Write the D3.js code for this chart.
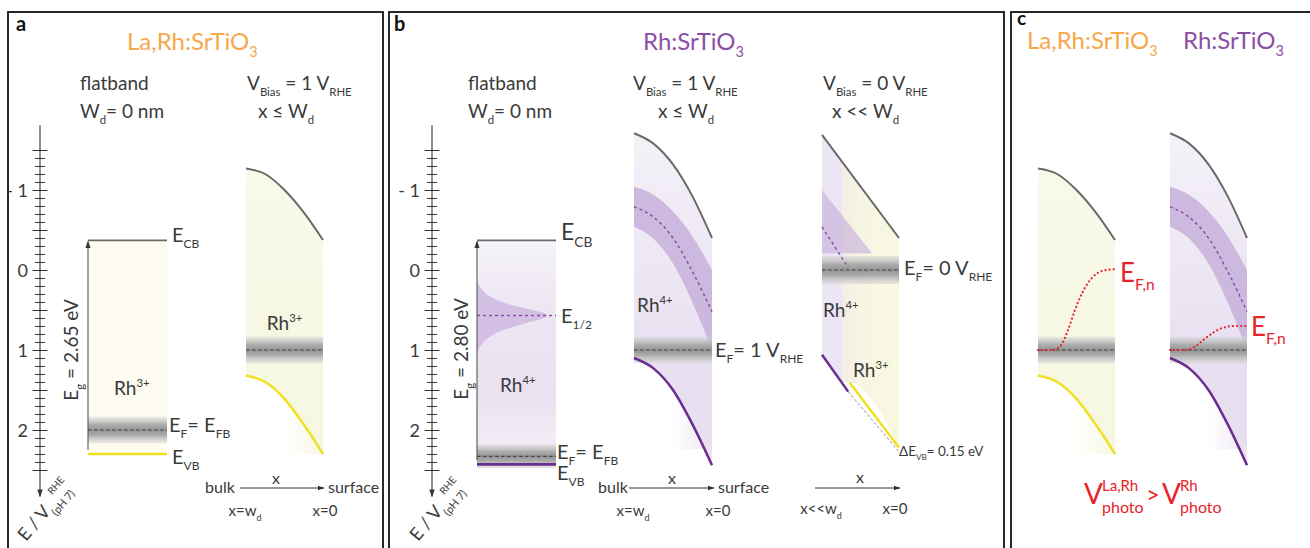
<!DOCTYPE html>
<html lang="en">
<head>
  <meta charset="UTF-8">
  <title>Band diagrams La,Rh:SrTiO3 vs Rh:SrTiO3</title>
  <script src="https://d3js.org/d3.v7.min.js"></script>
  <style>
    body { margin: 0; background: #fff; }
    svg { font-family: Lato, "Open Sans", sans-serif; }
  </style>
</head>
<body>
  <svg width="1310" height="548"></svg>
  <script>
    // ---- data (energies in V vs RHE, pH 7; x = 0 bulk .. 1 surface) ----
    const labelTicks = [-1, 0, 1, 2];
    const majorTicks = [-1.5, -1, -0.5, 0, 0.5, 1, 1.5, 2, 2.5];

    // flatband levels: [E_CB, E_F, E_VB]
    const flatLaRh = [-0.37, 2.0, 2.3];
    const flatRh = [-0.37, 2.33, 2.43];
    const e12 = 0.57;

    // Rh4+ density of states in the flatband box
    const dosE = [0.15, 0.25, 0.33, 0.40, 0.47, 0.52, 0.57, 0.62, 0.67, 0.74, 0.82, 0.92, 1.02];
    const dosW = [0.0, 0.06, 0.15, 0.30, 0.55, 0.80, 0.93, 0.80, 0.60, 0.35, 0.17, 0.06, 0.0];

    // band bending at V_bias = 1 V_RHE
    const xsBend = [0, 0.25, 0.5, 0.75, 1];
    const cbLaRh = [-1.27, -1.2, -1.0, -0.72, -0.375];
    const vbLaRh = [1.32, 1.40, 1.61, 1.93, 2.3];
    const cbRh = [-1.71, -1.58, -1.32, -0.92, -0.40];
    const rh4Top = [-1.04, -0.94, -0.73, -0.42, 0.0];
    const rh4Bot = [-0.54, -0.39, -0.08, 0.41, 1.0];
    const rh4Mid = [-0.79, -0.66, -0.40, 0.02, 0.52];
    const vbRh = [1.1, 1.23, 1.50, 1.93, 2.44];
    const efBias1 = 1.0;

    // x << W_d at V_bias = 0 V_RHE
    const efBias0 = 0.0;
    const nearX = [0, 1];
    const cbNear = [-1.69, -0.40];
    const rh4NearX = [0, 0.65];
    const rh4NearE = [-1.0, -0.21];
    const rh4MidNearX = [0, 0.34];
    const rh4MidNear = [-0.54, -0.03];
    const vbNearRhX = [0, 0.34];
    const vbNearRh = [1.06, 1.52];
    const vbNearLaRhX = [0.36, 1];
    const vbNearLaRh = [1.41, 2.22];
    const vbNearRefX = [0.34, 1];
    const vbNearRef = [1.52, 2.27];
    const deltaVB = 0.15;

    // quasi Fermi level of electrons under illumination
    const efnLaRhX = [0, 0.19, 0.29, 0.39, 0.48, 0.58, 0.70, 0.84, 1];
    const efnLaRh = [1.0, 1.0, 0.95, 0.75, 0.5, 0.275, 0.1, 0.01, -0.01];
    const efnRhX = [0, 0.22, 0.32, 0.43, 0.55, 0.68, 0.84, 1];
    const efnRh = [1.0, 1.0, 0.96, 0.875, 0.79, 0.725, 0.7, 0.7];

    const orange = "#f7a84a", purple = "#8c4fa6", red = "#e8232b", ink = "#3a3a3a";
    const grayLine = "#6a6a6a", yellow = "#f0e01e", violet = "#6a2d90";

    const svg = d3.select("svg");
    const Y = d3.scaleLinear().domain([-1.8125, 2.85]).range([125, 498]);

    // ---- defs ----
    const defs = svg.append("defs");
    function vGrad(id, stops, horizontal) {
      const lg = defs.append("linearGradient").attr("id", id)
        .attr("x1", 0).attr("y1", 0).attr("x2", horizontal ? 1 : 0).attr("y2", horizontal ? 0 : 1);
      stops.forEach(s => lg.append("stop").attr("offset", s[0]).attr("stop-color", s[1]).attr("stop-opacity", s[2] == null ? 1 : s[2]));
    }
    vGrad("gray", [[0, "#d6d6d6", 0.5], [0.3, "#adadad"], [0.5, "#939393"], [0.7, "#adadad"], [1, "#d6d6d6", 0.5]]);
    vGrad("rhFlat", [[0, "#f6f3f9"], [0.3, "#ede6f3"], [0.7, "#e9e1f0"], [0.88, "#f1ecf5"], [1, "#ebe4f1"]]);
    vGrad("rhBias", [[0, "#f4f1f8"], [0.35, "#eee8f4"], [0.75, "#e7def0"], [1, "#e9e1f0"]]);
    vGrad("rhBelow", [[0, "#ffffff", 0], [0.45, "#f1ecf5", 0], [1, "#ebe4f1", 0.95]], true);
    vGrad("laBelow", [[0, "#ffffff", 0], [0.45, "#f7f8e3", 0], [1, "#f6f7df", 0.95]], true);
    vGrad("laBias", [[0, "#f8f9e9"], [1, "#f5f7df"]]);
    vGrad("nearYellow", [[0, "#f3ece6"], [0.3, "#f7f5e3"], [1, "#f8f8df"]], true);
    defs.append("marker").attr("id", "arr").attr("viewBox", "0 0 10 10")
      .attr("refX", 9).attr("refY", 5).attr("markerWidth", 7).attr("markerHeight", 7)
      .attr("orient", "auto-start-reverse")
      .append("path").attr("d", "M0,1.5L10,5L0,8.5Z").attr("fill", "#333");

    // ---- helpers ----
    function rich(parent, x, y, parts, fs, color, anchor) {
      const t = parent.append("text").attr("x", x).attr("y", y)
        .attr("font-size", fs).attr("fill", color || ink).attr("text-anchor", anchor || "start");
      let shift = 0;
      parts.forEach(p => {
        const [s, k] = Array.isArray(p) ? p : [p, 0];
        const target = k === 1 ? 0.3 * fs : k === 2 ? -0.4 * fs : 0;
        t.append("tspan").attr("dy", target - shift).attr("font-size", k ? fs * 0.6 : fs).text(s);
        shift = target;
      });
      return t;
    }
    const curve = (X, xs, es, c) => d3.line().x((d, i) => X(xs[i])).y(d => Y(d)).curve(c || d3.curveMonotoneX)(es);
    const band = (X, xs, top, bot) => d3.area().x((d, i) => X(xs[i]))
      .y0((d, i) => Y(top[i])).y1((d, i) => Y(bot[i])).curve(d3.curveMonotoneX)(xs);
    const lerp = (xs, es, t) => d3.interpolateNumber(es[0], es[1])((t - xs[0]) / (xs[1] - xs[0]));

    function grayBand(g, X, e, half) {
      const h = half || 0.165;
      g.append("rect").attr("x", X(0)).attr("width", X(1) - X(0))
        .attr("y", Y(e - h)).attr("height", Y(e + h) - Y(e - h))
        .attr("fill", "url(#gray)");
    }
    function dashed(g, X, xs, es, color, w, dash) {
      g.append("path").attr("d", curve(X, xs, es)).attr("fill", "none")
        .attr("stroke", color).attr("stroke-width", w || 1.2).attr("stroke-dasharray", dash || "3.5,2.5");
    }
    function solid(g, X, xs, es, color, w) {
      g.append("path").attr("d", curve(X, xs, es)).attr("fill", "none")
        .attr("stroke", color).attr("stroke-width", w || 2);
    }
    function hArrow(x0, x1, yy) {
      svg.append("line").attr("x1", x0).attr("x2", x1).attr("y1", yy).attr("y2", yy)
        .attr("stroke", "#333").attr("stroke-width", 1).attr("marker-end", "url(#arr)");
    }

    // ---- panel frames ----
    [[8, 375], [389, 615], [1011, 330]].forEach(f => {
      svg.append("rect").attr("x", f[0]).attr("y", 12).attr("width", f[1]).attr("height", 560)
        .attr("fill", "none").attr("stroke", "#111").attr("stroke-width", 1.8);
    });
    [["a", 16], ["b", 394]].forEach(l => svg.append("text").attr("x", l[1]).attr("y", 31)
      .attr("font-size", 20).attr("font-weight", "bold").attr("fill", "#111").text(l[0]));
    svg.append("text").attr("x", 1017).attr("y", 25).attr("font-size", 19)
      .attr("font-weight", "bold").attr("fill", "#111").text("c");

    // ---- energy axes ----
    function energyAxis(cx) {
      const g = svg.append("g").attr("transform", `translate(${cx},0)`);
      g.append("line").attr("y1", Y(-1.8125)).attr("y2", Y(2.83)).attr("stroke", "#333").attr("stroke-width", 1.1)
        .attr("marker-end", "url(#arr)");
      const minor = d3.range(-15, 26).map(i => i / 10);
      [[d3.axisLeft, minor, 5], [d3.axisRight, minor, 5], [d3.axisLeft, majorTicks, 7.5], [d3.axisRight, majorTicks, 7.5]]
        .forEach(a => {
          g.append("g").call(a[0](Y).tickValues(a[1]).tickSize(a[2]).tickFormat(""))
            .call(s => s.select(".domain").remove())
            .selectAll("line").attr("stroke", "#333").attr("stroke-width", 1);
        });
      g.append("g").call(d3.axisLeft(Y).tickValues(labelTicks).tickSize(0).tickPadding(12)
          .tickFormat(d => d < 0 ? "- " + Math.abs(d) : d))
        .call(s => s.select(".domain").remove())
        .selectAll("text").attr("font-size", 18).attr("font-family", "Lato, sans-serif").attr("fill", ink).attr("dy", "0.36em");
      const t = svg.append("text").attr("transform", `translate(${cx - 14},${542}) rotate(-50)`)
        .attr("font-size", 18).attr("fill", ink);
      t.append("tspan").text("E / V");
      t.append("tspan").attr("font-size", 11).attr("dy", 7).text("(pH 7)");
      t.append("tspan").attr("font-size", 10).attr("dx", -16).attr("dy", -17).text("RHE");
    }
    energyAxis(40);
    energyAxis(432);

    // ---- titles and headers ----
    rich(svg, 127, 50, ["La,Rh:SrTiO", ["3", 1]], 24, orange);
    rich(svg, 643, 50, ["Rh:SrTiO", ["3", 1]], 24, purple);
    rich(svg, 1027, 49, ["La,Rh:SrTiO", ["3", 1]], 24, orange);
    rich(svg, 1183, 49, ["Rh:SrTiO", ["3", 1]], 24, purple);

    [80, 468].forEach(x => {
      rich(svg, x, 90, ["flatband"], 19);
      rich(svg, x, 118, ["W", ["d", 1], "= 0 nm"], 19);
    });
    [[247, 258, "1", "x ≤ W"], [633, 658, "1", "x ≤ W"], [823, 832, "0", "x << W"]].forEach(h => {
      rich(svg, h[0], 90, ["V", ["Bias", 1], " = " + h[2] + " V", ["RHE", 1]], 19);
      rich(svg, h[1], 118, [h[3], ["d", 1]], 19);
    });

    // ---- a: flatband La,Rh:SrTiO3 ----
    {
      const X = d3.scaleLinear().domain([0, 1]).range([88, 167]);
      const g = svg.append("g");
      g.append("rect").attr("x", X(0)).attr("width", X(1) - X(0)).attr("y", Y(flatLaRh[0]))
        .attr("height", Y(flatLaRh[2]) - Y(flatLaRh[0])).attr("fill", "#fefcf0");
      grayBand(g, X, flatLaRh[1]);
      dashed(g, X, [0, 1], [flatLaRh[1], flatLaRh[1]], "#444");
      solid(g, X, [0, 1], [flatLaRh[0], flatLaRh[0]], grayLine, 1.8);
      solid(g, X, [0, 1], [flatLaRh[2], flatLaRh[2]], yellow, 2.5);
      g.append("line").attr("x1", X(0)).attr("x2", X(0)).attr("y1", Y(flatLaRh[2]) - 4).attr("y2", Y(flatLaRh[0]) + 1)
        .attr("stroke", "#555").attr("stroke-width", 1.1).attr("marker-end", "url(#arr)");
      rich(svg, 0, 0, ["E", ["g", 1], " = 2.65 eV"], 19).attr("transform", `translate(78,350) rotate(-90)`).attr("text-anchor", "middle");
      rich(svg, 114, 395, ["Rh", ["3+", 2]], 19);
      rich(svg, 172, 242, ["E", ["CB", 1]], 20);
      rich(svg, 169, 432, ["E", ["F", 1], "= E", ["FB", 1]], 20);
      rich(svg, 172, 464, ["E", ["VB", 1]], 20);
    }

    // ---- La,Rh:SrTiO3 under bias (panel a and c) ----
    function laRhBias(x0, x1, withLabel) {
      const X = d3.scaleLinear().domain([0, 1]).range([x0, x1]);
      const g = svg.append("g");
      g.append("path").attr("d", band(X, xsBend, cbLaRh, vbLaRh)).attr("fill", "url(#laBias)");
      g.append("path").attr("d", band(X, xsBend, vbLaRh, xsBend.map(() => vbLaRh[4]))).attr("fill", "url(#laBelow)");
      grayBand(g, X, efBias1);
      dashed(g, X, [0, 1], [efBias1, efBias1], "#444");
      solid(g, X, xsBend, cbLaRh, grayLine, 2);
      solid(g, X, xsBend, vbLaRh, yellow, 2.5);
      if (withLabel) rich(svg, X(0.27), 330, ["Rh", ["3+", 2]], 19);
      return { X, g };
    }
    laRhBias(246, 323, true);

    // ---- b: flatband Rh:SrTiO3 ----
    {
      const X = d3.scaleLinear().domain([0, 1]).range([477, 556]);
      const g = svg.append("g");
      g.append("rect").attr("x", X(0)).attr("width", X(1) - X(0)).attr("y", Y(flatRh[0]))
        .attr("height", Y(flatRh[2]) - Y(flatRh[0])).attr("fill", "url(#rhFlat)");
      g.append("path").attr("d", d3.area().y(d => Y(d)).x0(X(0)).x1((d, i) => X(dosW[i])).curve(d3.curveBasis)(dosE))
        .attr("fill", "#d3bfe3");
      dashed(g, X, [0, 1], [e12, e12], purple, 1.5, "3,3");
      grayBand(g, X, flatRh[1], 0.15);
      dashed(g, X, [0, 1], [flatRh[1], flatRh[1]], "#444");
      solid(g, X, [0, 1], [flatRh[0], flatRh[0]], grayLine, 1.8);
      solid(g, X, [0, 1], [flatRh[2], flatRh[2]], violet, 2.8);
      g.append("line").attr("x1", X(0)).attr("x2", X(0)).attr("y1", Y(flatRh[2]) - 4).attr("y2", Y(flatRh[0]) + 1)
        .attr("stroke", "#555").attr("stroke-width", 1.1).attr("marker-end", "url(#arr)");
      rich(svg, 0, 0, ["E", ["g", 1], " = 2.80 eV"], 19).attr("transform", `translate(468,349) rotate(-90)`).attr("text-anchor", "middle");
      rich(svg, 500, 392, ["Rh", ["4+", 2]], 19);
      rich(svg, 561, 240, ["E", ["CB", 1]], 23);
      rich(svg, 561, 323, ["E", ["1/2", 1]], 20);
      rich(svg, 557, 459, ["E", ["F", 1], "= E", ["FB", 1]], 20);
      rich(svg, 557, 480, ["E", ["VB", 1]], 20);
    }

    // ---- Rh:SrTiO3 under bias (panel b and c) ----
    function rhBias(x0, x1, withLabel) {
      const X = d3.scaleLinear().domain([0, 1]).range([x0, x1]);
      const g = svg.append("g");
      g.append("path").attr("d", band(X, xsBend, cbRh, vbRh)).attr("fill", "url(#rhBias)");
      g.append("path").attr("d", band(X, xsBend, vbRh, xsBend.map(() => vbRh[4] - 0.2))).attr("fill", "url(#rhBelow)");
      g.append("path").attr("d", band(X, xsBend, rh4Top, rh4Bot)).attr("fill", "#c7b0da").attr("opacity", 0.85);
      grayBand(g, X, efBias1);
      dashed(g, X, xsBend, rh4Mid, purple, 1.5, "3,3");
      dashed(g, X, [0, 1], [efBias1, efBias1], "#444");
      solid(g, X, xsBend, cbRh, grayLine, 2);
      solid(g, X, xsBend, vbRh, violet, 2.5);
      if (withLabel) rich(svg, X(0.04), 312, ["Rh", ["4+", 2]], 19);
      return { X, g };
    }
    rhBias(634, 712, true);
    rich(svg, 715, 357, ["E", ["F", 1], "= 1 V", ["RHE", 1]], 20);

    // ---- b: x << W_d, V_bias = 0 ----
    {
      const X = d3.scaleLinear().domain([0, 1]).range([822, 899]);
      const g = svg.append("g");
      const split = 0.26;
      g.append("path").attr("d", band(X, [0, split], [cbNear[0], lerp(nearX, cbNear, split)],
        [vbNearRh[0], lerp(vbNearRhX, vbNearRh, split)])).attr("fill", "#ece5f3");
      const yX = [split, vbNearLaRhX[0], 1];
      g.append("path").attr("d", band(X, yX, yX.map(t => lerp(nearX, cbNear, t)),
        [vbNearLaRh[0], vbNearLaRh[0], vbNearLaRh[1]])).attr("fill", "url(#nearYellow)");
      g.append("path").attr("d", d3.line()([[X(rh4NearX[0]), Y(rh4NearE[0])], [X(rh4NearX[1]), Y(rh4NearE[1])], [X(0), Y(rh4NearE[1])]]))
        .attr("fill", "#c4acd8").attr("opacity", 0.6);
      grayBand(g, X, efBias0, 0.175);
      dashed(g, X, rh4MidNearX, rh4MidNear, purple, 1.5, "3,3");
      dashed(g, X, [0, 1], [efBias0, efBias0], "#444");
      solid(g, X, nearX, cbNear, grayLine, 2);
      dashed(g, X, vbNearRefX, vbNearRef, "#b0b0b0", 1.1, "3,2");
      solid(g, X, vbNearRhX, vbNearRh, violet, 2.5);
      solid(g, X, vbNearLaRhX, vbNearLaRh, yellow, 2.5);
      rich(svg, 823, 317, ["Rh", ["4+", 2]], 19);
      rich(svg, 853, 377, ["Rh", ["3+", 2]], 19);
      rich(svg, 904, 275, ["E", ["F", 1], "= 0 V", ["RHE", 1]], 20);
      rich(svg, 899, 456, ["ΔE", ["VB", 1], "= " + deltaVB.toFixed(2) + " eV"], 13.5);
    }

    // ---- x-direction arrows ----
    rich(svg, 205, 493, ["bulk"], 16);
    hArrow(240, 324, 488);
    rich(svg, 276, 484, ["x"], 16, ink, "middle");
    rich(svg, 328, 493, ["surface"], 16);
    rich(svg, 245, 516, ["x=w", ["d", 1]], 15, ink, "middle");
    rich(svg, 325, 516, ["x=0"], 15, ink, "middle");

    rich(svg, 598, 493, ["bulk"], 16);
    hArrow(629, 714, 488);
    rich(svg, 672, 484, ["x"], 16, ink, "middle");
    rich(svg, 718, 493, ["surface"], 16);
    rich(svg, 633, 516, ["x=w", ["d", 1]], 15, ink, "middle");
    rich(svg, 718, 516, ["x=0"], 15, ink, "middle");

    hArrow(815, 900, 488);
    rich(svg, 860, 483, ["x"], 16, ink, "middle");
    rich(svg, 821, 514, ["x<<w", ["d", 1]], 15, ink, "middle");
    rich(svg, 895, 514, ["x=0"], 15, ink, "middle");

    // ---- c: photovoltage comparison ----
    {
      const a = laRhBias(1038, 1115, false);
      a.g.append("path").attr("d", curve(a.X, efnLaRhX, efnLaRh)).attr("fill", "none")
        .attr("stroke", red).attr("stroke-width", 2.2).attr("stroke-linecap", "round").attr("stroke-dasharray", "0.1,4");
      rich(svg, 1120, 282, ["E", ["F,n", 1]], 26, red);

      const b = rhBias(1170, 1247, false);
      b.g.append("path").attr("d", curve(b.X, efnRhX, efnRh)).attr("fill", "none")
        .attr("stroke", red).attr("stroke-width", 2.2).attr("stroke-linecap", "round").attr("stroke-dasharray", "0.1,4");
      rich(svg, 1251, 336, ["E", ["F,n", 1]], 26, red);

      const f = svg.append("g").attr("fill", red);
      f.append("text").attr("x", 1084).attr("y", 504).attr("font-size", 28).text("V");
      f.append("text").attr("x", 1102).attr("y", 491).attr("font-size", 15).text("La,Rh");
      f.append("text").attr("x", 1102).attr("y", 513).attr("font-size", 16).text("photo");
      f.append("text").attr("x", 1146).attr("y", 503).attr("font-size", 24).text(">");
      f.append("text").attr("x", 1162).attr("y", 504).attr("font-size", 28).text("V");
      f.append("text").attr("x", 1180).attr("y", 491).attr("font-size", 15).text("Rh");
      f.append("text").attr("x", 1180).attr("y", 513).attr("font-size", 16).text("photo");
    }
  </script>
</body>
</html>
